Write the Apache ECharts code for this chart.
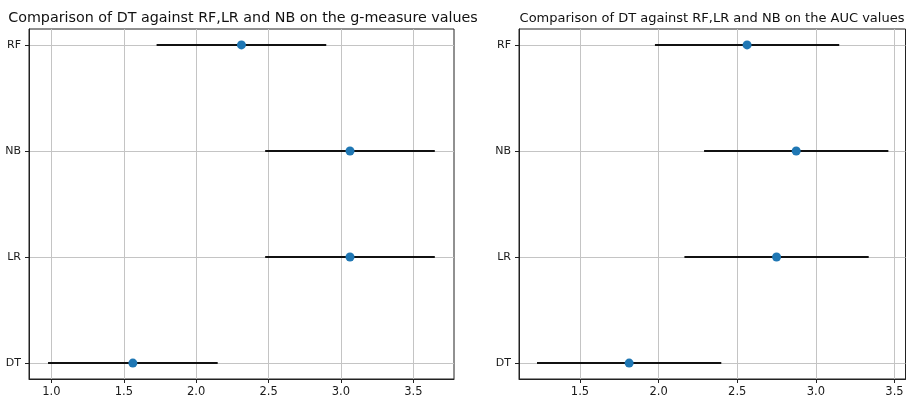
<!DOCTYPE html>
<html>
<head>
<meta charset="utf-8">
<script src="https://cdn.jsdelivr.net/npm/echarts@6/dist/echarts.min.js"></script>
<style>
html,body{margin:0;padding:0;background:#fff;}
#chart{width:911px;height:402px;}
</style>
</head>
<body>
<div id="chart"></div>
<script>
// Data
const models = ['DT', 'LR', 'NB', 'RF'];
const gmeasureRanks = [1.5625, 3.0625, 3.0625, 2.3125];
const aucRanks = [1.8125, 2.75, 2.875, 2.5625];
const halfCD = [0.586, 0.586, 0.586, 0.586];
const leftTicks = [1.0, 1.5, 2.0, 2.5, 3.0, 3.5];
const rightTicks = [1.5, 2.0, 2.5, 3.0, 3.5];
const leftTitle = 'Comparison of DT against RF,LR and NB on the g-measure values';
const rightTitle = 'Comparison of DT against RF,LR and NB on the AUC values';

const FONT = 'DejaVu Sans';
const chart = echarts.init(document.getElementById('chart'), null, {renderer: 'canvas'});

function xAxisCfg(idx, min, max, ticks) {
  return {
    type: 'value', gridIndex: idx, min: min, max: max,
    axisLine: {show: true, onZero: false, lineStyle: {color: '#222', width: 1}},
    axisTick: {show: true, length: 4, customValues: ticks, lineStyle: {color: '#222'}},
    axisLabel: {customValues: ticks, margin: 7, color: '#1a1a1a', fontFamily: FONT, fontSize: 11.5,
      formatter: v => v.toFixed(1)},
    splitLine: {show: true, lineStyle: {color: '#c4c4c4', width: 1}}
  };
}
function yAxisCfg(idx) {
  const vals = models.map((m, i) => i);
  return {
    type: 'value', gridIndex: idx, min: -0.15, max: 3.15,
    axisLine: {show: true, onZero: false, lineStyle: {color: '#222', width: 1}},
    axisTick: {show: true, length: 4, customValues: vals, lineStyle: {color: '#222'}},
    axisLabel: {customValues: vals, margin: 8, color: '#1a1a1a', fontFamily: FONT, fontSize: 11,
      formatter: v => models[Math.round(v)]},
    splitLine: {show: true, lineStyle: {color: '#c4c4c4', width: 1}}
  };
}
function errSeries(idx, ranks) {
  return {
    type: 'custom', xAxisIndex: idx, yAxisIndex: idx, z: 3,
    data: ranks.map((r, i) => [r - halfCD[i], r + halfCD[i], i]),
    renderItem: (params, api) => {
      const a = api.coord([api.value(0), api.value(2)]);
      const b = api.coord([api.value(1), api.value(2)]);
      return {type: 'line', shape: {x1: a[0], y1: a[1], x2: b[0], y2: b[1]},
        style: {stroke: '#111', lineWidth: 2}};
    }
  };
}
function dotSeries(idx, ranks) {
  return {
    type: 'scatter', xAxisIndex: idx, yAxisIndex: idx, z: 4,
    symbolSize: 9, itemStyle: {color: '#1f77b4', opacity: 1},
    data: ranks.map((r, i) => [r, i])
  };
}

chart.setOption({
  animation: false,
  backgroundColor: '#fff',
  title: [
    {text: leftTitle, left: 238, top: 6, textAlign: 'center',
     textStyle: {fontFamily: FONT, fontSize: 14.3, fontWeight: 'normal', color: '#111'}},
    {text: rightTitle, left: 707, top: 7, textAlign: 'center',
     textStyle: {fontFamily: FONT, fontSize: 13, fontWeight: 'normal', color: '#111'}}
  ],
  grid: [
    {left: 29, top: 29, width: 425, height: 350, show: true, borderColor: '#222', borderWidth: 1, backgroundColor: '#fff'},
    {left: 519, top: 29, width: 386.5, height: 350, show: true, borderColor: '#222', borderWidth: 1, backgroundColor: '#fff'}
  ],
  xAxis: [xAxisCfg(0, 0.845, 3.781, leftTicks), xAxisCfg(1, 1.112, 3.570, rightTicks)],
  yAxis: [yAxisCfg(0), yAxisCfg(1)],
  series: [
    errSeries(0, gmeasureRanks), dotSeries(0, gmeasureRanks),
    errSeries(1, aucRanks), dotSeries(1, aucRanks)
  ]
});
</script>
</body>
</html>
